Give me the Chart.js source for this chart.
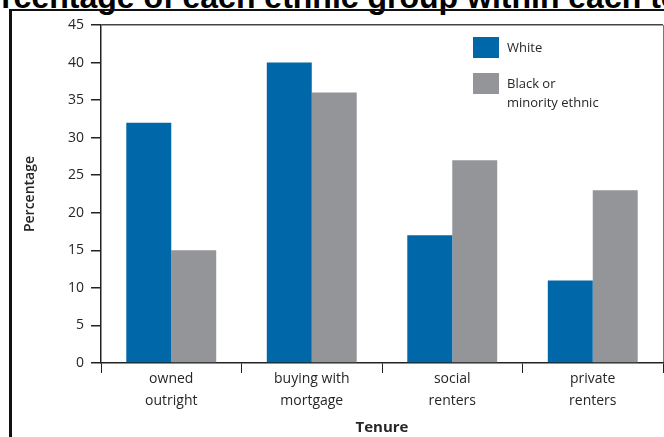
<!DOCTYPE html>
<html>
<head>
<meta charset="utf-8">
<script src="https://cdn.jsdelivr.net/npm/chart.js@4"></script>
<style>
html,body{margin:0;padding:0;background:#fff;overflow:hidden}
#wrap{position:relative;width:664px;height:437px;overflow:hidden;background:#fff}
#title{position:absolute;left:-38px;top:-19px;font:bold 32px "Liberation Sans",Arial,sans-serif;line-height:32px;white-space:nowrap;color:#000}
#frame{position:absolute;left:9px;top:9px;width:720px;height:520px;border-left:3px solid #111;border-top:2px solid #111}
canvas{position:absolute;left:0;top:0}
</style>
</head>
<body>
<div id="wrap">
    <div id="title">Percentage of each ethnic group within each tenure</div>
    <div id="frame"></div>
    <canvas id="chart" width="664" height="437"></canvas>
</div>
<script>

// data
const tenures=[["owned","outright"],["buying with","mortgage"],["social","renters"],["private","renters"]]
const whitePct=[32,40,17,11]
const minorityPct=[15,36,27,23]
const seriesNames=["White","Black or minority ethnic"]
const legendLines=[["White"],["Black or","minority ethnic"]]

const blue="#0067a8"
const grey="#939598"
const textColor="#262626"

// legend drawn as boxes at the top right, like the original
const legendBox={
    id:"legendBox",
    afterDatasetsDraw(chart){
        const ctx=chart.ctx
        ctx.save()
        ctx.font='13px "Open Sans"'
        ctx.textBaseline="middle"
        ctx.textAlign="left"
        chart.data.datasets.forEach((ds,i)=>{
            const y=37+i*36
            ctx.fillStyle=ds.backgroundColor
            ctx.fillRect(473,y,26,21)
            ctx.fillStyle=textColor
            legendLines[i].forEach((t,j)=>{
                ctx.fillText(t,507,y+11+j*19)
            })
        })
        ctx.restore()
    }
}

new Chart(document.getElementById("chart"),{
    type:"bar",
    data:{
        labels:tenures,
        datasets:[
            {
                label:seriesNames[0],
                data:whitePct,
                backgroundColor:blue,
                categoryPercentage:0.64,
                barPercentage:1
            },
            {
                label:seriesNames[1],
                data:minorityPct,
                backgroundColor:grey,
                categoryPercentage:0.64,
                barPercentage:1
            }
        ]
    },
    options:{
        responsive:false,
        animation:false,
        layout:{
            padding:{top:25,right:1,bottom:0,left:0}
        },
        plugins:{
            legend:{display:false},
            tooltip:{enabled:false}
        },
        scales:{
            x:{
                afterFit(scale){scale.height=74},
                border:{color:"#222",width:1.5},
                grid:{
                    offset:true,
                    drawOnChartArea:true,
                    tickLength:10,
                    tickColor:"#222",
                    color:c=>c.tick?"rgba(0,0,0,0)":"#777"
                },
                ticks:{
                    color:textColor,
                    padding:-5,
                    font:{family:"Open Sans",size:14,lineHeight:1.58}
                },
                title:{
                    display:true,
                    text:"Tenure",
                    color:textColor,
                    padding:{top:0,bottom:0},
                    font:{family:"Open Sans",size:15,weight:"bold"}
                }
            },
            y:{
                min:0,
                max:45,
                afterFit(scale){scale.width=101},
                border:{color:"#222",width:1.5},
                grid:{
                    tickLength:10,
                    tickColor:"#222",
                    color:c=>c.tick&&c.tick.value===45?"#444":"rgba(0,0,0,0)",
                    lineWidth:1.5
                },
                ticks:{
                    stepSize:5,
                    color:textColor,
                    padding:7,
                    font:{family:"Open Sans",size:14}
                },
                title:{
                    display:true,
                    text:"Percentage",
                    color:textColor,
                    padding:{top:22,bottom:0},
                    font:{family:"Open Sans",size:14,weight:"600"}
                }
            }
        }
    },
    plugins:[legendBox]
})

</script>
</body>
</html>
